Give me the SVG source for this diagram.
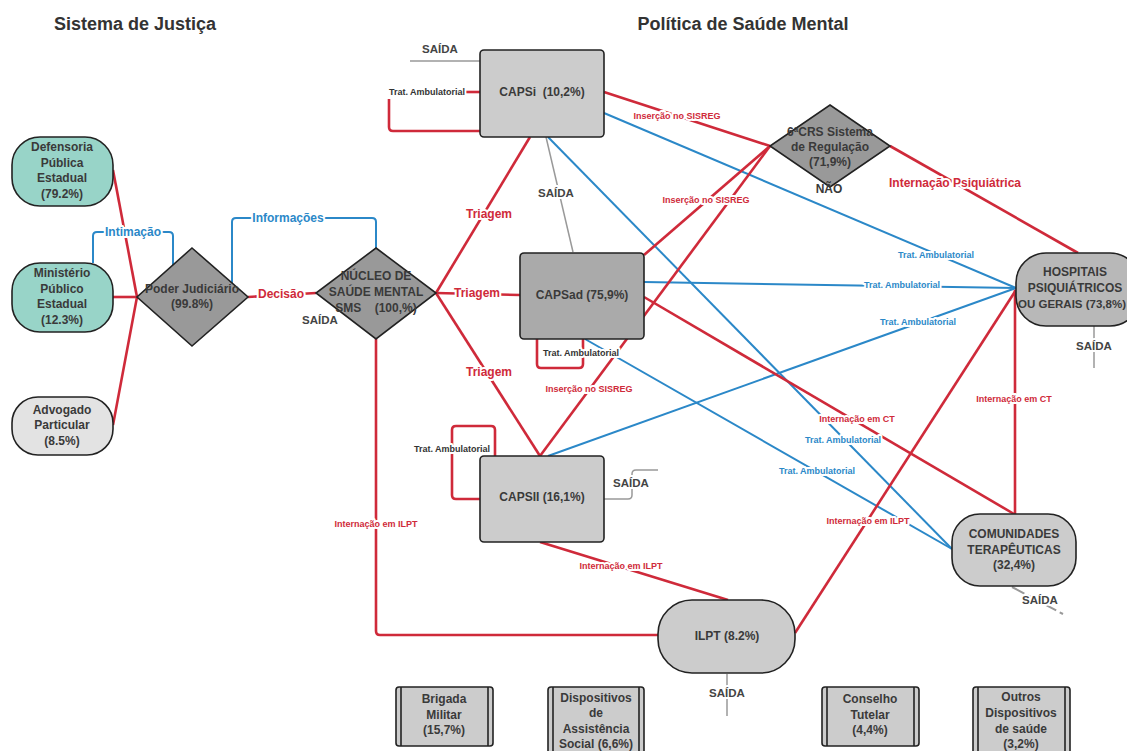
<svg xmlns="http://www.w3.org/2000/svg" width="1127" height="751" viewBox="0 0 1127 751">
<style>
.title{font:bold 18px 'Liberation Sans',Arial,sans-serif;fill:#333;text-anchor:middle}
.nt{font:bold 12px 'Liberation Sans',Arial,sans-serif;fill:#3a3a3a;text-anchor:middle}
.shape{stroke:#222;stroke-width:1.6}
.red{fill:none;stroke:#cf2a3a;stroke-width:2.6;stroke-linejoin:round}
.blue{fill:none;stroke:#2b88c8;stroke-width:2;stroke-linejoin:round}
.grey{fill:none;stroke:#999;stroke-width:1.5}
.lbl{font-family:'Liberation Sans',Arial,sans-serif;font-weight:bold;text-anchor:middle;stroke:#fff;stroke-width:4px;paint-order:stroke;stroke-linejoin:round}
.r12{font-size:12px;fill:#cf2a3a}
.b12{font-size:12px;fill:#2b88c8}
.r9{font-size:9px;fill:#cf2a3a}
.b9{font-size:9px;fill:#2b88c8}
.k9{font-size:9px;fill:#333}
.s11{font-size:11.5px;fill:#444}
</style>
<rect width="1127" height="751" fill="#fff"/>
<text class="title" x="135" y="30">Sistema de Justiça</text>
<text class="title" x="743" y="30">Política de Saúde Mental</text>

<g id="connectors">
  <line class="red" x1="113" y1="170" x2="137" y2="297"/>
  <line class="red" x1="113" y1="297" x2="137" y2="297"/>
  <line class="red" x1="113" y1="425" x2="137" y2="297"/>
  <path class="blue" d="M93 263 V236 Q93 232 97 232 H169 Q173 232 173 236 V265"/>
  <path class="blue" d="M232 283 V222 Q232 218 236 218 H372 Q376 218 376 222 V248"/>
  <line class="red" x1="248" y1="297" x2="316" y2="293"/>
  <line class="red" x1="436" y1="293" x2="530" y2="137"/>
  <line class="red" x1="436" y1="293" x2="520" y2="295"/>
  <line class="red" x1="436" y1="293" x2="540" y2="456"/>
  <line class="blue" x1="604" y1="113" x2="1016" y2="288"/>
  <line class="blue" x1="644" y1="282" x2="1016" y2="288"/>
  <line class="blue" x1="548" y1="456" x2="1016" y2="288"/>
  <line class="blue" x1="548" y1="137" x2="952" y2="549"/>
  <line class="blue" x1="585" y1="339" x2="952" y2="549"/>
  <line class="red" x1="604" y1="92" x2="770" y2="146"/>
  <line class="red" x1="644" y1="255" x2="770" y2="146"/>
  <line class="red" x1="540" y1="456" x2="770" y2="146"/>
  <line class="red" x1="890" y1="146" x2="1078" y2="253"/>
  <line class="red" x1="644" y1="297" x2="1014" y2="514"/>
  <line class="red" x1="1015" y1="290" x2="1015" y2="514"/>
  <line class="red" x1="1016" y1="290" x2="795" y2="633"/>
  <line class="red" x1="540" y1="542" x2="728" y2="600"/>
  <path class="red" d="M376 339 V631 Q376 635 380 635 H658"/>
  <path class="red" d="M466 92 H480"/>
  <path class="red" d="M389 99 V127 Q389 131 393 131 H480"/>
  <path class="red" d="M537 339 V364 Q537 368 541 368 H579 Q583 368 583 364 V339"/>
  <path class="red" d="M495 456 V430 Q495 426 491 426 H456 Q452 426 452 430 V495 Q452 499 456 499 H480"/>
  <line class="grey" x1="410" y1="61" x2="480" y2="61"/>
  <line class="grey" x1="546" y1="137" x2="573" y2="252"/>
  <path class="grey" d="M604 499 H628 Q632 499 632 495 V474 Q632 470 636 470 H658"/>
  <line class="grey" x1="1094" y1="326" x2="1094" y2="368"/>
  <line class="grey" x1="727" y1="674" x2="727" y2="716"/>
  <line x1="1012" y1="587" x2="1063" y2="614" stroke="#999" stroke-width="2" stroke-dasharray="14 4"/>
  <text class="lbl b12" x="133" y="236">Intimação</text>
  <text class="lbl b12" x="288" y="222">Informações</text>
  <text class="lbl r12" x="281" y="298">Decisão</text>
  <text class="lbl s11" x="320" y="324">SAÍDA</text>
  <text class="lbl r12" x="489" y="218">Triagem</text>
  <text class="lbl r12" x="477" y="297">Triagem</text>
  <text class="lbl r12" x="489" y="376">Triagem</text>
  <text class="lbl k9" x="427" y="95">Trat. Ambulatorial</text>
  <text class="lbl s11" x="440" y="53">SAÍDA</text>
  <text class="lbl s11" x="556" y="197">SAÍDA</text>
  <text class="lbl k9" x="581" y="356">Trat. Ambulatorial</text>
  <text class="lbl k9" x="452" y="452">Trat. Ambulatorial</text>
  <text class="lbl s11" x="631" y="487">SAÍDA</text>
  <text class="lbl r9" x="677" y="119">Inserção no SISREG</text>
  <text class="lbl r9" x="706" y="203">Inserção no SISREG</text>
  <text class="lbl r9" x="589" y="392">Inserção no SISREG</text>
  <text class="lbl r12" x="955" y="187">Internação Psiquiátrica</text>
  <text class="lbl b9" x="936" y="258">Trat. Ambulatorial</text>
  <text class="lbl b9" x="902" y="288">Trat. Ambulatorial</text>
  <text class="lbl b9" x="918" y="325">Trat. Ambulatorial</text>
  <text class="lbl b9" x="843" y="443">Trat. Ambulatorial</text>
  <text class="lbl b9" x="817" y="474">Trat. Ambulatorial</text>
  <text class="lbl r9" x="857" y="422">Internação em CT</text>
  <text class="lbl r9" x="1014" y="402">Internação em CT</text>
  <text class="lbl r9" x="868" y="524">Internação em ILPT</text>
  <text class="lbl r9" x="621" y="569">Internação em ILPT</text>
  <text class="lbl r9" x="376" y="527">Internação em ILPT</text>
  <text class="lbl s11" x="1094" y="350">SAÍDA</text>
  <text class="lbl s11" x="1040" y="604">SAÍDA</text>
  <text class="lbl s11" x="727" y="697">SAÍDA</text>
</g>

<g id="defensoria">
  <rect class="shape" x="12" y="137" width="101" height="69" rx="28" fill="#98d4c8"/>
  <text class="nt" x="62" y="151">Defensoria</text>
  <text class="nt" x="62" y="167">Pública</text>
  <text class="nt" x="62" y="182">Estadual</text>
  <text class="nt" x="62" y="198">(79.2%)</text>
</g>
<g id="ministerio">
  <rect class="shape" x="12" y="263" width="101" height="69" rx="28" fill="#98d4c8"/>
  <text class="nt" x="62" y="277">Ministério</text>
  <text class="nt" x="62" y="293">Público</text>
  <text class="nt" x="62" y="308">Estadual</text>
  <text class="nt" x="62" y="324">(12.3%)</text>
</g>
<g id="advogado">
  <rect class="shape" x="12" y="397" width="101" height="58" rx="26" fill="#e3e3e3"/>
  <text class="nt" x="62" y="414">Advogado</text>
  <text class="nt" x="62" y="429">Particular</text>
  <text class="nt" x="62" y="445">(8.5%)</text>
</g>
<g id="poder">
  <polygon class="shape" points="192,248 248,297 192,346 137,297" fill="#999"/>
  <text class="nt" x="192" y="293">Poder Judiciário</text>
  <text class="nt" x="192" y="308">(99.8%)</text>
</g>
<g id="nucleo">
  <polygon class="shape" points="376,248 436,293 376,339 316,293" fill="#999"/>
  <text class="nt" x="376" y="280">NÚCLEO DE</text>
  <text class="nt" x="376" y="296">SAÚDE MENTAL</text>
  <text class="nt" x="376" y="312" xml:space="preserve">SMS    (100,%)</text>
</g>
<g id="capsi">
  <rect class="shape" x="480" y="50" width="124" height="87" rx="4" fill="#ccc"/>
  <text class="nt" x="542" y="96" xml:space="preserve">CAPSi  (10,2%)</text>
</g>
<g id="capsad">
  <rect class="shape" x="520" y="253" width="124" height="86" rx="4" fill="#aaa"/>
  <text class="nt" x="582" y="299">CAPSad (75,9%)</text>
</g>
<g id="capsii">
  <rect class="shape" x="480" y="456" width="124" height="86" rx="4" fill="#ccc"/>
  <text class="nt" x="542" y="501">CAPSII (16,1%)</text>
</g>
<g id="crs">
  <polygon class="shape" points="830,105 890,146 830,187 770,146" fill="#999"/>
  <text class="nt" x="830" y="136">6ªCRS Sistema</text>
  <text class="nt" x="830" y="151">de Regulação</text>
  <text class="nt" x="830" y="166">(71,9%)</text>
  <text class="nt" x="829" y="193">NÃO</text>
</g>
<g id="hospitais">
  <rect class="shape" x="1016" y="253" width="124" height="73" rx="30" fill="#b8b8b8"/>
  <text class="nt" x="1075" y="276">HOSPITAIS</text>
  <text class="nt" x="1075" y="292">PSIQUIÁTRICOS</text>
  <text class="nt" x="1072" y="308" style="font-size:11.5px">OU GERAIS (73,8%)</text>
</g>
<g id="comunidades">
  <rect class="shape" x="952" y="514" width="124" height="72" rx="28" fill="#ccc"/>
  <text class="nt" x="1014" y="538">COMUNIDADES</text>
  <text class="nt" x="1014" y="554">TERAPÊUTICAS</text>
  <text class="nt" x="1014" y="569">(32,4%)</text>
</g>
<g id="ilpt">
  <rect class="shape" x="658" y="600" width="137" height="73" rx="34" fill="#ccc"/>
  <text class="nt" x="727" y="640">ILPT (8.2%)</text>
</g>
<g id="brigada">
  <rect class="shape" x="396" y="687" width="97" height="59" rx="3" fill="#ccc"/>
  <line class="shape" x1="401" y1="687" x2="401" y2="746"/><line class="shape" x1="488" y1="687" x2="488" y2="746"/>
  <text class="nt" x="444" y="703">Brigada</text>
  <text class="nt" x="444" y="719">Militar</text>
  <text class="nt" x="444" y="734">(15,7%)</text>
</g>
<g id="assistencia">
  <rect class="shape" x="548" y="687" width="96" height="72" rx="3" fill="#ccc"/>
  <line class="shape" x1="553" y1="687" x2="553" y2="760"/><line class="shape" x1="639" y1="687" x2="639" y2="760"/>
  <text class="nt" x="596" y="702">Dispositivos</text>
  <text class="nt" x="596" y="717">de</text>
  <text class="nt" x="596" y="733">Assistência</text>
  <text class="nt" x="596" y="748">Social (6,6%)</text>
</g>
<g id="conselho">
  <rect class="shape" x="822" y="687" width="97" height="59" rx="3" fill="#ccc"/>
  <line class="shape" x1="827" y1="687" x2="827" y2="746"/><line class="shape" x1="914" y1="687" x2="914" y2="746"/>
  <text class="nt" x="870" y="703">Conselho</text>
  <text class="nt" x="870" y="719">Tutelar</text>
  <text class="nt" x="870" y="734">(4,4%)</text>
</g>
<g id="outros">
  <rect class="shape" x="973" y="687" width="97" height="72" rx="3" fill="#ccc"/>
  <line class="shape" x1="978" y1="687" x2="978" y2="760"/><line class="shape" x1="1065" y1="687" x2="1065" y2="760"/>
  <text class="nt" x="1021" y="701">Outros</text>
  <text class="nt" x="1021" y="717">Dispositivos</text>
  <text class="nt" x="1021" y="733">de saúde</text>
  <text class="nt" x="1021" y="748">(3,2%)</text>
</g>
</svg>
